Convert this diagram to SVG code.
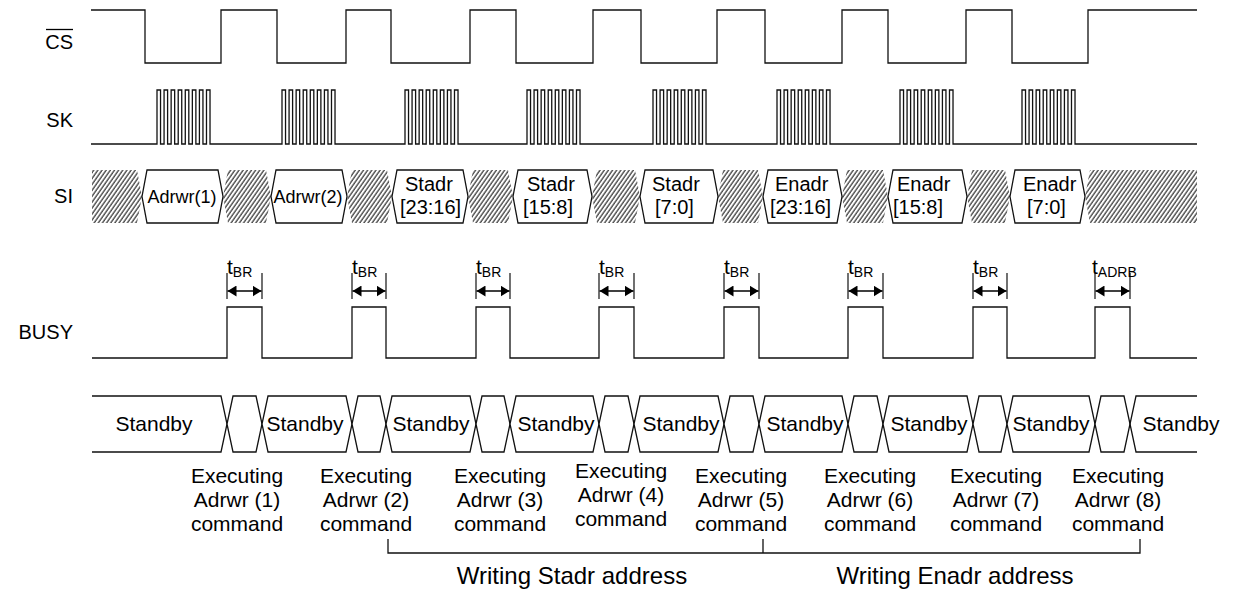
<svg xmlns="http://www.w3.org/2000/svg" width="1235" height="589" viewBox="0 0 1235 589">
<style>
.sig{fill:none;stroke:#111;stroke-width:1.3}
.box{fill:#fff;stroke:#111;stroke-width:1.3}
.hat{fill:url(#hatch);stroke:none}
.lbl{font-family:"Liberation Sans",Arial,sans-serif;font-size:20px;fill:#000}
.si{font-family:"Liberation Sans",Arial,sans-serif;font-size:20px;fill:#000}
.sm{font-family:"Liberation Sans",Arial,sans-serif;font-size:18px;fill:#000;text-anchor:middle}
.st{font-family:"Liberation Sans",Arial,sans-serif;font-size:21px;fill:#000;text-anchor:middle}
.ex{font-family:"Liberation Sans",Arial,sans-serif;font-size:21px;fill:#000;text-anchor:middle}
.wr{font-family:"Liberation Sans",Arial,sans-serif;font-size:24px;fill:#000;text-anchor:middle}
.t{font-family:"Liberation Sans",Arial,sans-serif;font-size:21px;fill:#000}
.tick{stroke:#111;stroke-width:1.2}
.arr{stroke:#000;stroke-width:1.5;marker-start:url(#ah);marker-end:url(#ah)}
</style>
<defs>
<pattern id="hatch" patternUnits="userSpaceOnUse" width="3.4" height="10" patternTransform="rotate(35)">
<rect width="3.4" height="10" fill="#fff"/>
<line x1="1" y1="0" x2="1" y2="10" stroke="#4a4a4a" stroke-width="1.4"/>
</pattern>
<marker id="ah" viewBox="0 0 9 11" refX="9" refY="5.5" markerWidth="9" markerHeight="11" markerUnits="userSpaceOnUse" orient="auto-start-reverse">
<path d="M0,0 L9,5.5 L0,11 z" fill="#000"/>
</marker>
</defs>
<rect width="1235" height="589" fill="#fff"/>

<g id="labels">
<text class="lbl" x="73" y="49" text-anchor="end">CS</text>
<line x1="46" y1="29.5" x2="73" y2="29.5" stroke="#000" stroke-width="1.3"/>
<text class="lbl" x="73" y="127" text-anchor="end">SK</text>
<text class="lbl" x="73" y="203" text-anchor="end">SI</text>
<text class="lbl" x="73" y="339" text-anchor="end">BUSY</text>
</g>

<g id="cs">
<path class="sig" d="M91,10 H145 V63 H221 V10 H277 V63 H346 V10 H391 V63 H470 V10 H516 V63 H593 V10 H641 V63 H717 V10 H765 V63 H842 V10 H888 V63 H966 V10 H1012 V63 H1088 V10 H1197"/>
</g>

<g id="sk">
<path class="sig" d="M91,144 H157 v-54h3.53v54h3.54v-54h3.53v54h3.54v-54h3.53v54h3.54v-54h3.53v54h3.54v-54h3.53v54h3.54v-54h3.53v54h3.54v-54h3.53v54h3.54v-54h3.53v54
H282 v-54h3.53v54h3.54v-54h3.53v54h3.54v-54h3.53v54h3.54v-54h3.53v54h3.54v-54h3.53v54h3.54v-54h3.53v54h3.54v-54h3.53v54h3.54v-54h3.53v54
H405 v-54h3.53v54h3.54v-54h3.53v54h3.54v-54h3.53v54h3.54v-54h3.53v54h3.54v-54h3.53v54h3.54v-54h3.53v54h3.54v-54h3.53v54h3.54v-54h3.53v54
H527 v-54h3.53v54h3.54v-54h3.53v54h3.54v-54h3.53v54h3.54v-54h3.53v54h3.54v-54h3.53v54h3.54v-54h3.53v54h3.54v-54h3.53v54h3.54v-54h3.53v54
H653 v-54h3.53v54h3.54v-54h3.53v54h3.54v-54h3.53v54h3.54v-54h3.53v54h3.54v-54h3.53v54h3.54v-54h3.53v54h3.54v-54h3.53v54h3.54v-54h3.53v54
H777 v-54h3.53v54h3.54v-54h3.53v54h3.54v-54h3.53v54h3.54v-54h3.53v54h3.54v-54h3.53v54h3.54v-54h3.53v54h3.54v-54h3.53v54h3.54v-54h3.53v54
H900 v-54h3.53v54h3.54v-54h3.53v54h3.54v-54h3.53v54h3.54v-54h3.53v54h3.54v-54h3.53v54h3.54v-54h3.53v54h3.54v-54h3.53v54h3.54v-54h3.53v54
H1022 v-54h3.53v54h3.54v-54h3.53v54h3.54v-54h3.53v54h3.54v-54h3.53v54h3.54v-54h3.53v54h3.54v-54h3.53v54h3.54v-54h3.53v54h3.54v-54h3.53v54
H1197"/>
</g>

<g id="si">
<polygon class="hat" points="92,170 137,170 142,196.5 137,223 92,223"/>
<polygon class="hat" points="223,196.5 228,170 266,170 271,196.5 266,223 228,223"/>
<polygon class="hat" points="347,196.5 352,170 387,170 392,196.5 387,223 352,223"/>
<polygon class="hat" points="468,196.5 473,170 508,170 513,196.5 508,223 473,223"/>
<polygon class="hat" points="592,196.5 597,170 635,170 640,196.5 635,223 597,223"/>
<polygon class="hat" points="718,196.5 723,170 758,170 763,196.5 758,223 723,223"/>
<polygon class="hat" points="842,196.5 847,170 883,170 888,196.5 883,223 847,223"/>
<polygon class="hat" points="967,196.5 972,170 1005,170 1010,196.5 1005,223 972,223"/>
<polygon class="hat" points="1085,196.5 1090,170 1197,170 1197,223 1090,223"/>
<polygon class="box" points="142,196.5 147,170 218,170 223,196.5 218,223 147,223"/>
<polygon class="box" points="271,196.5 276,170 342,170 347,196.5 342,223 276,223"/>
<polygon class="box" points="392,196.5 397,170 463,170 468,196.5 463,223 397,223"/>
<polygon class="box" points="513,196.5 518,170 587,170 592,196.5 587,223 518,223"/>
<polygon class="box" points="640,196.5 645,170 713,170 718,196.5 713,223 645,223"/>
<polygon class="box" points="763,196.5 768,170 837,170 842,196.5 837,223 768,223"/>
<polygon class="box" points="888,196.5 893,170 962,170 967,196.5 962,223 893,223"/>
<polygon class="box" points="1010,196.5 1015,170 1080,170 1085,196.5 1080,223 1015,223"/>
<text class="sm" x="182" y="203">Adrwr(1)</text>
<text class="sm" x="308" y="203">Adrwr(2)</text>
<text class="si" x="405" y="191">Stadr</text><text class="si" x="400" y="214">[23:16]</text>
<text class="si" x="527" y="191">Stadr</text><text class="si" x="523" y="214">[15:8]</text>
<text class="si" x="652" y="191">Stadr</text><text class="si" x="655" y="214">[7:0]</text>
<text class="si" x="775" y="191">Enadr</text><text class="si" x="770" y="214">[23:16]</text>
<text class="si" x="897" y="191">Enadr</text><text class="si" x="893" y="214">[15:8]</text>
<text class="si" x="1023" y="191">Enadr</text><text class="si" x="1027" y="214">[7:0]</text>
</g>

<g id="busy">
<path class="sig" d="M92,358 H227 V307 H262 V358 H352 V307 H386 V358 H476 V307 H510 V358 H599 V307 H634 V358 H724 V307 H759 V358 H848 V307 H883 V358 H973 V307 H1007 V358 H1095 V307 H1130 V358 H1197"/>
</g>

<g id="timing">
<g class="tick">
<line x1="227" y1="273" x2="227" y2="299"/><line x1="262" y1="273" x2="262" y2="299"/>
<line x1="352" y1="273" x2="352" y2="299"/><line x1="386" y1="273" x2="386" y2="299"/>
<line x1="476" y1="273" x2="476" y2="299"/><line x1="510" y1="273" x2="510" y2="299"/>
<line x1="599" y1="273" x2="599" y2="299"/><line x1="634" y1="273" x2="634" y2="299"/>
<line x1="724" y1="273" x2="724" y2="299"/><line x1="759" y1="273" x2="759" y2="299"/>
<line x1="848" y1="273" x2="848" y2="299"/><line x1="883" y1="273" x2="883" y2="299"/>
<line x1="973" y1="273" x2="973" y2="299"/><line x1="1007" y1="273" x2="1007" y2="299"/>
<line x1="1095" y1="273" x2="1095" y2="299"/><line x1="1130" y1="273" x2="1130" y2="299"/>
</g>
<line class="arr" x1="227.5" y1="291" x2="261.5" y2="291"/>
<line class="arr" x1="352.5" y1="291" x2="385.5" y2="291"/>
<line class="arr" x1="476.5" y1="291" x2="509.5" y2="291"/>
<line class="arr" x1="599.5" y1="291" x2="633.5" y2="291"/>
<line class="arr" x1="724.5" y1="291" x2="758.5" y2="291"/>
<line class="arr" x1="848.5" y1="291" x2="882.5" y2="291"/>
<line class="arr" x1="973.5" y1="291" x2="1006.5" y2="291"/>
<line class="arr" x1="1095.5" y1="291" x2="1129.5" y2="291"/>
<text class="t" x="227" y="274">t<tspan font-size="14" dy="3">BR</tspan></text>
<text class="t" x="352" y="274">t<tspan font-size="14" dy="3">BR</tspan></text>
<text class="t" x="476" y="274">t<tspan font-size="14" dy="3">BR</tspan></text>
<text class="t" x="599" y="274">t<tspan font-size="14" dy="3">BR</tspan></text>
<text class="t" x="724" y="274">t<tspan font-size="14" dy="3">BR</tspan></text>
<text class="t" x="848" y="274">t<tspan font-size="14" dy="3">BR</tspan></text>
<text class="t" x="973" y="274">t<tspan font-size="14" dy="3">BR</tspan></text>
<text class="t" x="1092" y="274">t<tspan font-size="14" dy="3">ADRB</tspan></text>
</g>

<g id="state">
<path class="sig" d="M92,396 H221 L227,424 L221,452 H92"/>
<polygon class="box" points="227,424 233,396 256,396 262,424 256,452 233,452"/>
<polygon class="box" points="262,424 268,396 346,396 352,424 346,452 268,452"/>
<polygon class="box" points="352,424 358,396 380,396 386,424 380,452 358,452"/>
<polygon class="box" points="386,424 392,396 470,396 476,424 470,452 392,452"/>
<polygon class="box" points="476,424 482,396 504,396 510,424 504,452 482,452"/>
<polygon class="box" points="510,424 516,396 593,396 599,424 593,452 516,452"/>
<polygon class="box" points="599,424 605,396 628,396 634,424 628,452 605,452"/>
<polygon class="box" points="634,424 640,396 718,396 724,424 718,452 640,452"/>
<polygon class="box" points="724,424 730,396 753,396 759,424 753,452 730,452"/>
<polygon class="box" points="759,424 765,396 842,396 848,424 842,452 765,452"/>
<polygon class="box" points="848,424 854,396 877,396 883,424 877,452 854,452"/>
<polygon class="box" points="883,424 889,396 967,396 973,424 967,452 889,452"/>
<polygon class="box" points="973,424 979,396 1001,396 1007,424 1001,452 979,452"/>
<polygon class="box" points="1007,424 1013,396 1089,396 1095,424 1089,452 1013,452"/>
<polygon class="box" points="1095,424 1101,396 1124,396 1130,424 1124,452 1101,452"/>
<path class="sig" d="M1197,396 H1136 L1130,424 L1136,452 H1197"/>
<text class="st" x="154" y="431">Standby</text>
<text class="st" x="305" y="431">Standby</text>
<text class="st" x="431" y="431">Standby</text>
<text class="st" x="556" y="431">Standby</text>
<text class="st" x="681" y="431">Standby</text>
<text class="st" x="805" y="431">Standby</text>
<text class="st" x="929" y="431">Standby</text>
<text class="st" x="1051" y="431">Standby</text>
<text class="st" x="1181" y="431">Standby</text>
</g>

<g id="exec">
<text class="ex" x="237" y="483">Executing<tspan x="237" y="507">Adrwr (1)</tspan><tspan x="237" y="531">command</tspan></text>
<text class="ex" x="366" y="483">Executing<tspan x="366" y="507">Adrwr (2)</tspan><tspan x="366" y="531">command</tspan></text>
<text class="ex" x="500" y="483">Executing<tspan x="500" y="507">Adrwr (3)</tspan><tspan x="500" y="531">command</tspan></text>
<text class="ex" x="621" y="478">Executing<tspan x="621" y="502">Adrwr (4)</tspan><tspan x="621" y="526">command</tspan></text>
<text class="ex" x="741" y="483">Executing<tspan x="741" y="507">Adrwr (5)</tspan><tspan x="741" y="531">command</tspan></text>
<text class="ex" x="870" y="483">Executing<tspan x="870" y="507">Adrwr (6)</tspan><tspan x="870" y="531">command</tspan></text>
<text class="ex" x="996" y="483">Executing<tspan x="996" y="507">Adrwr (7)</tspan><tspan x="996" y="531">command</tspan></text>
<text class="ex" x="1118" y="483">Executing<tspan x="1118" y="507">Adrwr (8)</tspan><tspan x="1118" y="531">command</tspan></text>
</g>

<g id="brackets">
<path class="sig" d="M388,539 V553 H1140 V539 M763,539 V553"/>
<text class="wr" x="572" y="584">Writing Stadr address</text>
<text class="wr" x="955" y="584">Writing Enadr address</text>
</g>
</svg>
